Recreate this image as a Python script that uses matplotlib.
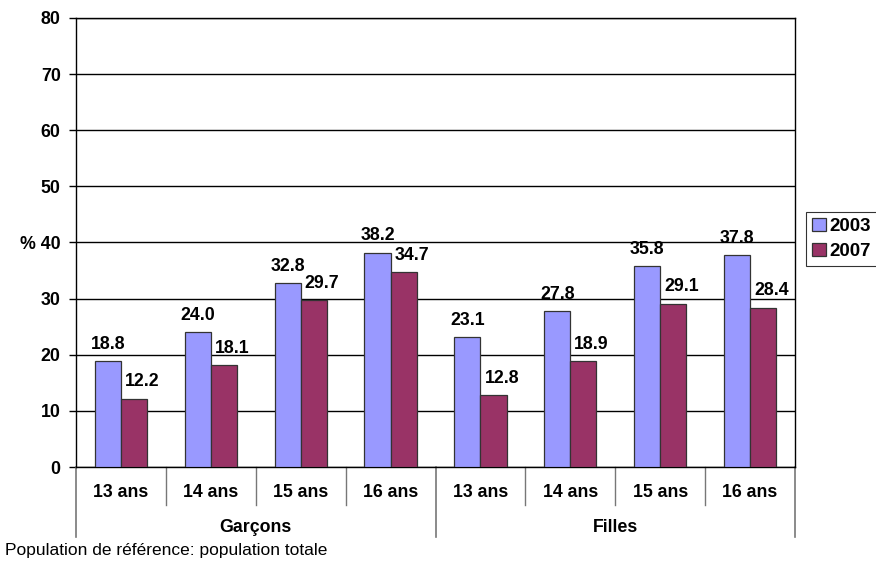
import matplotlib
matplotlib.use("Agg")
import matplotlib.pyplot as plt
import numpy as np

plt.rcParams.update({"font.family": "Liberation Sans", "font.size": 12.8})

ages = ["13 ans", "14 ans", "15 ans", "16 ans"]
groups = ["Garçons", "Filles"]
years = ["2003", "2007"]
vals_2003 = [18.8, 24.0, 32.8, 38.2, 23.1, 27.8, 35.8, 37.8]
vals_2007 = [12.2, 18.1, 29.7, 34.7, 12.8, 18.9, 29.1, 28.4]
yticks = [0, 10, 20, 30, 40, 50, 60, 70, 80]

COL_2003 = "#9999FF"
COL_2007 = "#993366"

fig = plt.figure(figsize=(8.76, 5.61), dpi=100)
ax = fig.add_axes([76 / 876, 94 / 561, 719 / 876, 449 / 561])

n = len(vals_2003)
x = np.arange(n)
w = 0.29
b1 = ax.bar(x - w / 2, vals_2003, w, color=COL_2003, edgecolor="#333333", linewidth=0.9, zorder=3, label=years[0])
b2 = ax.bar(x + w / 2, vals_2007, w, color=COL_2007, edgecolor="#333333", linewidth=0.9, zorder=3, label=years[1])

# value labels; the 2007 ones sit a little to the right of their bar
for bars, vals, dx in ((b1, vals_2003, 0), (b2, vals_2007, 6)):
    for r, v in zip(bars, vals):
        ax.annotate(f"{v:.1f}", (r.get_x() + r.get_width() / 2, v), xytext=(dx, 6),
                    textcoords="offset points", ha="center", va="bottom", fontweight="bold")

ax.set_xlim(-0.5, n - 0.5)
ax.set_ylim(0, 80)
ax.set_yticks(yticks)
ax.set_yticklabels(["% 40" if t == 40 else str(t) for t in yticks], fontweight="bold")
ax.tick_params(axis="y", length=5, width=1, pad=6)
ax.set_xticks([])
ax.yaxis.grid(True, color="black", linewidth=1, zorder=0)
for s in ax.spines.values():
    s.set_linewidth(1)
    s.set_color("black")

# two-level category axis below the plot
tr = ax.get_xaxis_transform()
for i, lab in enumerate(ages * len(groups)):
    ax.text(i, -0.056, lab, transform=tr, ha="center", va="center", fontweight="bold")
for i in range(1, n):
    if i % len(ages):
        ax.plot([i - 0.5, i - 0.5], [0, -0.085], transform=tr, color="#777777", lw=1, clip_on=False)
for g in range(len(groups) + 1):
    xs = g * len(ages) - 0.5
    ax.plot([xs, xs], [0, -0.156], transform=tr, color="#777777", lw=1.2, clip_on=False)
for g, name in enumerate(groups):
    ax.text(g * len(ages) + 1.5, -0.134, name, transform=tr, ha="center", va="center", fontweight="bold")

leg = fig.legend(loc="upper left", bbox_to_anchor=(806 / 876, 1 - 212 / 561), frameon=True,
                 fancybox=False, edgecolor="black", borderpad=0.3, borderaxespad=0,
                 handlelength=0.75, handleheight=0.75, handletextpad=0.2, labelspacing=0.4,
                 prop={"weight": "bold", "size": 13.5})
leg.get_frame().set_linewidth(0.8)

fig.text(5 / 876, 1 - 551 / 561, "Population de référence: population totale", ha="left", va="center", fontsize=12.5)

fig.savefig("out.png", dpi=100)
